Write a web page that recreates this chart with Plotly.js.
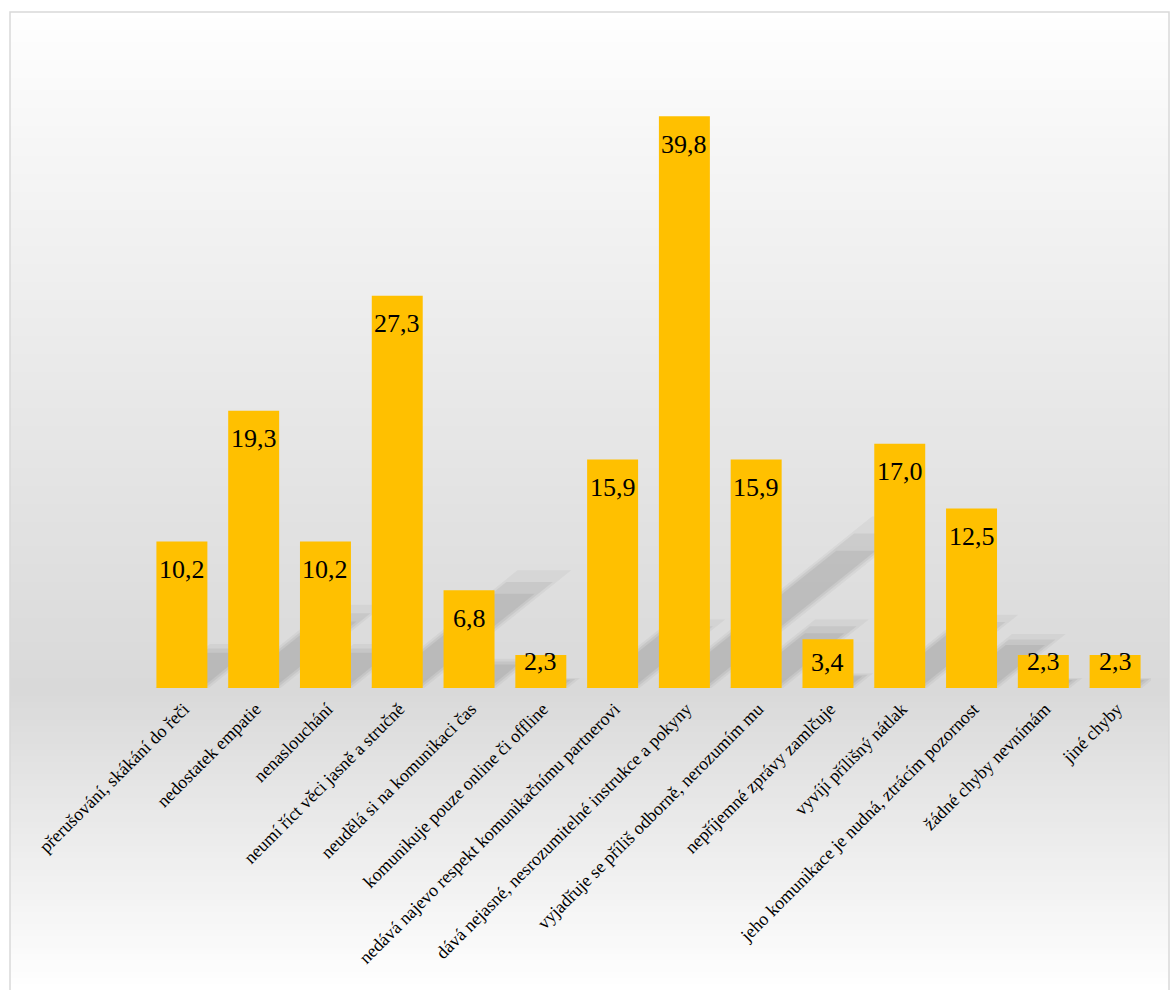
<!DOCTYPE html>
<html>
<head>
<meta charset="utf-8">
<script src="https://cdn.plot.ly/plotly-3.0.1.min.js"></script>
<style>html,body{margin:0;padding:0;background:#fff;}#chart{width:1170px;height:990px;}</style>
</head>
<body>
<div id="chart"></div>
<script>
// ---- data ----
const categories = [
  "přerušování, skákání do řeči",
  "nedostatek empatie",
  "nenaslouchání",
  "neumí říct věci jasně a stručně",
  "neudělá si na komunikaci čas",
  "komunikuje pouze online či offline",
  "nedává najevo respekt komunikačnímu partnerovi",
  "dává nejasné, nesrozumitelné instrukce a pokyny",
  "vyjadřuje se příliš odborně, nerozumím mu",
  "nepříjemné zprávy zamlčuje",
  "vyvíjí přílišný nátlak",
  "jeho komunikace je nudná, ztrácím pozornost",
  "žádné chyby nevnímám",
  "jiné chyby"
];
const values = [10.2, 19.3, 10.2, 27.3, 6.8, 2.3, 15.9, 39.8, 15.9, 3.4, 17.0, 12.5, 2.3, 2.3];
const valueLabels = values.map(v => v.toFixed(1).replace('.', ','));

// ---- geometry / style ----
const W = 1170, H = 990;
const M = {l: 146, r: 19, t: 40, b: 302};
const PW = W - M.l - M.r, PH = H - M.t - M.b;
const YMAX = 45.1;
const BARW = 0.71;
const idx = categories.map((c, i) => i);
const pxPerUnitY = PH / YMAX, pxPerCat = PW / categories.length;

function px2paperX(px) { return (px - M.l) / PW; }
function py2paperY(py) { return (H - M.b - py) / PH; }

const shapes = [];
// background gradient (white -> grey at the baseline -> white)
const gTop = 12, gMid = 690, gBot = 990, step = 6;
for (let py = gTop; py < gBot; py += step) {
  const mid = py + step / 2;
  let g;
  if (mid <= gMid) g = 255 - (255 - 217) * Math.pow((mid - gTop) / (gMid - gTop), 0.9);
  else g = 217 + (255 - 217) * ((mid - gMid) / (gBot - gMid));
  g = Math.round(Math.min(255, Math.max(217, g)));
  shapes.push({
    type: 'rect', xref: 'paper', yref: 'paper', layer: 'below',
    x0: px2paperX(10), x1: px2paperX(1169),
    y0: py2paperY(py), y1: py2paperY(Math.min(gBot, py + step + 0.5)),
    fillcolor: `rgb(${g},${g},${g})`, line: {width: 0}
  });
}
// chart frame
shapes.push({
  type: 'rect', xref: 'paper', yref: 'paper', layer: 'below',
  x0: px2paperX(10), x1: px2paperX(1169), y0: py2paperY(12), y1: py2paperY(1000),
  fillcolor: 'rgba(0,0,0,0)', line: {color: '#d9d9d9', width: 1.5}
});
// soft cast shadows of the bars (derived from the values), stacked to look blurred
values.forEach((v, i) => {
  const blur = [{k: 0.30, a: 0.04, w: -0.02}, {k: 0.27, a: 0.055, w: 0.03}, {k: 0.24, a: 0.06, w: 0.08}];
  blur.forEach(L => {
    const rise = v * L.k;                                   // y units
    const dxCat = (rise * pxPerUnitY / 0.8) / pxPerCat;     // category units
    const x0 = i - BARW / 2 + L.w, x1 = i + BARW / 2 - L.w;
    shapes.push({
      type: 'path', xref: 'x', yref: 'y', layer: 'below',
      path: `M${x0},0 L${x1},0 L${x1 + dxCat},${rise} L${x0 + dxCat},${rise} Z`,
      fillcolor: `rgba(0,0,0,${L.a})`, line: {width: 0}
    });
  });
});

// value labels inside the top of each bar, kept inside short bars
const annotations = values.map((v, i) => ({
  x: i, y: v, xref: 'x', yref: 'y', text: valueLabels[i], showarrow: false,
  yanchor: 'middle', xanchor: 'center',
  yshift: -Math.min(28, v * pxPerUnitY - 26),
  font: {family: 'Liberation Serif, Times New Roman, serif', size: 26, color: '#000'}
}));

const trace = {
  type: 'bar', x: idx, y: values, width: BARW,
  marker: {color: '#ffc000', line: {width: 0}},
  hoverinfo: 'skip'
};

const layout = {
  width: W, height: H, margin: M,
  paper_bgcolor: '#ffffff', plot_bgcolor: 'rgba(0,0,0,0)',
  showlegend: false,
  xaxis: {
    range: [-0.5, 13.5], tickmode: 'array', tickvals: idx, ticktext: categories,
    tickangle: -45, ticks: '', showgrid: false, zeroline: false, showline: false,
    ticklabelshift: 2, ticklabelstandoff: 6,
    tickfont: {family: 'Liberation Serif, Times New Roman, serif', size: 18, color: '#000'},
    automargin: false, fixedrange: true
  },
  yaxis: {range: [0, YMAX], visible: false, fixedrange: true, automargin: false},
  shapes: shapes,
  annotations: annotations
};

Plotly.newPlot('chart', [trace], layout, {displayModeBar: false, staticPlot: true});
</script>
</body>
</html>
